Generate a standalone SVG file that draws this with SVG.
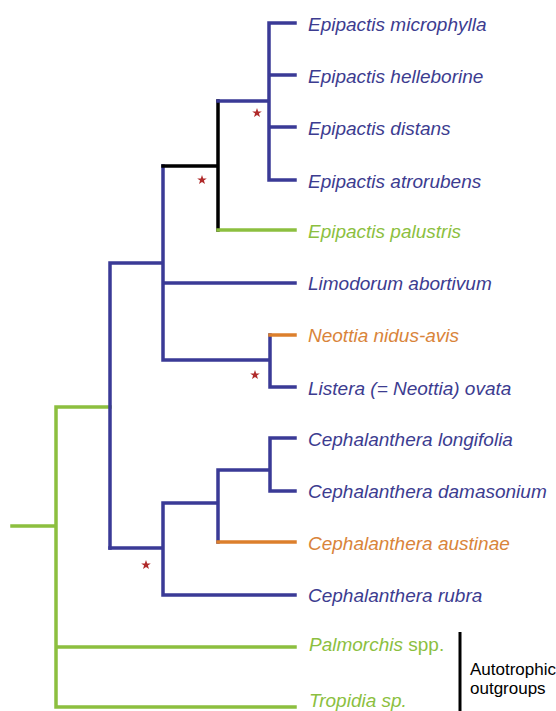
<svg xmlns="http://www.w3.org/2000/svg" xmlns:xlink="http://www.w3.org/1999/xlink" width="556" height="711" viewBox="0 0 556 711">
<style>
.b{stroke:#3a3a96;stroke-width:3.5;fill:none;stroke-linecap:square}
.g{stroke:#8cbf3f;stroke-width:3.5;fill:none;stroke-linecap:square}
.o{stroke:#dc7f2c;stroke-width:3.5;fill:none;stroke-linecap:square}
.k{stroke:#000;stroke-width:3.5;fill:none;stroke-linecap:square}
text{font-family:"Liberation Sans",Arial,sans-serif;font-size:19px;font-style:italic}
.up{font-style:normal}
.tb{fill:#3c3c90}
.tg{fill:#8cbf3f}
.to{fill:#d9843a}
.tk{fill:#000;font-style:normal;font-size:17px}
.star{fill:#b02a2a}
</style>
<defs>
<polygon id="st" points="0,-5 1.2,-1.6 4.8,-1.6 1.9,0.6 3,4 0,1.9 -3,4 -1.9,0.6 -4.8,-1.6 -1.2,-1.6"/>
</defs>
<rect width="556" height="711" fill="#fff"/>
<g id="connectors">
<path class="g" d="M12,526H56M56,407V707M56,407H110M56,647H295M56,707H295"/>
<path class="b" d="M110,263V548M110,263H163M163,166V360M163,283H295M163,360H270M270,335V387M270,387H295"/>
<path class="o" d="M270,335H295"/>
<path class="k" d="M163,166H218M218,101V230"/>
<path class="b" d="M218,101H269M269,23V180M269,23H295M269,75H295M269,127H295M269,180H295"/>
<path class="g" d="M218,230H295"/>
<path class="b" d="M110,548H163M163,503V595M163,595H295M163,503H218M218,470V542M218,470H270M270,438V491M270,438H295M270,491H295"/>
<path class="o" d="M218,542H295"/>
<path class="k" d="M460,632V711" style="stroke-width:3;stroke-linecap:butt"/>
</g>
<g id="stars" class="star">
<use xlink:href="#st" x="257" y="113"/>
<use xlink:href="#st" x="202" y="180"/>
<use xlink:href="#st" x="255" y="375"/>
<use xlink:href="#st" x="146" y="565"/>
</g>
<g id="n1"><text class="tb" x="308" y="31">Epipactis microphylla</text></g>
<g id="n2"><text class="tb" x="308" y="83">Epipactis helleborine</text></g>
<g id="n3"><text class="tb" x="308" y="135">Epipactis distans</text></g>
<g id="n4"><text class="tb" x="308" y="188">Epipactis atrorubens</text></g>
<g id="n5"><text class="tg" x="308" y="238">Epipactis palustris</text></g>
<g id="n6"><text class="tb" x="308" y="290">Limodorum abortivum</text></g>
<g id="n7"><text class="to" x="308" y="342">Neottia nidus-avis</text></g>
<g id="n8"><text class="tb" x="308" y="395">Listera (= Neottia) ovata</text></g>
<g id="n9"><text class="tb" x="308" y="446">Cephalanthera longifolia</text></g>
<g id="n10"><text class="tb" x="308" y="498">Cephalanthera damasonium</text></g>
<g id="n11"><text class="to" x="308" y="550">Cephalanthera austinae</text></g>
<g id="n12"><text class="tb" x="308" y="602">Cephalanthera rubra</text></g>
<g id="n13"><text class="tg" x="309" y="651">Palmorchis <tspan class="up">spp.</tspan></text></g>
<g id="n14"><text class="tg" x="309" y="707">Tropidia sp.</text></g>
<g id="outgroups"><text class="tk" x="470" y="675">Autotrophic</text><text class="tk" x="470" y="694">outgroups</text></g>
</svg>
